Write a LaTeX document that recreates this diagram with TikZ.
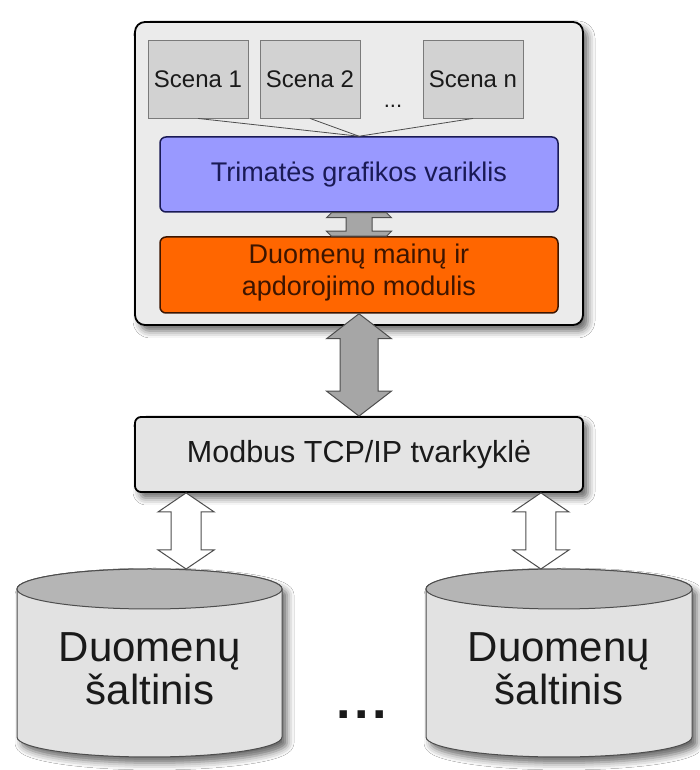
\documentclass[tikz,border=0pt]{standalone}
\usepackage{fontspec}
\setmainfont{Liberation Sans}
\usetikzlibrary{calc,shadows.blur}

\definecolor{shellfill}{HTML}{EBEBEB}
\definecolor{scenefill}{HTML}{D2D2D2}
\definecolor{sceneline}{HTML}{7A7A7A}
\definecolor{enginefill}{HTML}{9999FF}
\definecolor{enginetext}{HTML}{1A1A55}
\definecolor{modulefill}{HTML}{FF6600}
\definecolor{moduletext}{HTML}{3D1500}
\definecolor{driverfill}{HTML}{E4E4E4}
\definecolor{cylbody}{HTML}{E2E2E2}
\definecolor{cyltop}{HTML}{B5B5B5}
\definecolor{arrowfill}{HTML}{A6A6A6}
\definecolor{arrowline}{HTML}{4D4D4D}
\definecolor{inktext}{HTML}{1A1A1A}

% vertical double-headed block arrow:
% #1 style, #2 upper tip (gives x), #3 lower tip, #4 head half width,
% #5 shaft half width, #6 head length
\newcommand{\vdoublearrow}[6]{%
  \path[#1] let \p1=(#2), \p2=(#3) in
    (\x1,\y1) -- (\x1+#4,\y1-#6) -- (\x1+#5,\y1-#6) -- (\x1+#5,\y2+#6)
    -- (\x1+#4,\y2+#6) -- (\x1,\y2) -- (\x1-#4,\y2+#6) -- (\x1-#5,\y2+#6)
    -- (\x1-#5,\y1-#6) -- (\x1-#4,\y1-#6) -- cycle;}

% short double arrow whose tips are hidden by the two boxes it joins:
% #1 style, #2 upper end, #3 lower end, #4 width at the ends,
% #5 head half width, #6 shaft half width, #7 visible head depth
\newcommand{\vlinkarrow}[7]{%
  \path[#1] let \p1=(#2), \p2=(#3) in
    (\x1-#4,\y1) -- (\x1+#4,\y1) -- (\x1+#5,\y1-#7) -- (\x1+#6,\y1-#7)
    -- (\x1+#6,\y2+#7) -- (\x1+#5,\y2+#7) -- (\x1+#4,\y2) -- (\x1-#4,\y2)
    -- (\x1-#5,\y2+#7) -- (\x1-#6,\y2+#7) -- (\x1-#6,\y1-#7) -- (\x1-#5,\y1-#7) -- cycle;}

\tikzset{
  softshadow/.style={blur shadow={shadow xshift=5pt, shadow yshift=-6pt,
      shadow blur radius=7pt, shadow opacity=60}},
  shellbox/.style={draw=black, line width=1.8pt, fill=shellfill,
      rounded corners=10pt, softshadow},
  scenebox/.style={draw=sceneline, line width=0.9pt, fill=scenefill,
      minimum width=100pt, minimum height=78pt, inner sep=0pt,
      text=inktext, font=\fontsize{24}{28}\selectfont},
  enginebox/.style={draw=enginetext, line width=1.5pt, fill=enginefill,
      rounded corners=6pt, minimum width=398pt, minimum height=75pt,
      text=enginetext, font=\fontsize{27}{32}\selectfont},
  modulebox/.style={draw=moduletext, line width=1.5pt, fill=modulefill,
      rounded corners=6pt, minimum width=398pt, minimum height=76pt},
  moduletxt/.style={text=moduletext, align=center,
      font=\fontsize{27}{32}\selectfont},
  driverbox/.style={draw=black, line width=1.8pt, fill=driverfill,
      rounded corners=6pt, minimum width=448pt, minimum height=75pt,
      text=inktext, font=\fontsize{30.5}{36}\selectfont, softshadow},
  feed/.style={draw=arrowline, line width=0.8pt},
  greyarrow/.style={draw=arrowline, line width=1pt, fill=arrowfill,
      line join=miter},
  whitearrow/.style={draw=arrowline, line width=1pt, fill=white,
      line join=miter},
  cylside/.style={draw=arrowline, line width=1pt, fill=cylbody, softshadow},
  cylcap/.style={draw=arrowline, line width=1pt, fill=cyltop},
  dbtext/.style={text=inktext, anchor=base, inner sep=0pt,
      font=\fontsize{42}{42}\selectfont},
}

\begin{document}
\begin{tikzpicture}[x=1pt,y=1pt]
  \useasboundingbox (0,0) rectangle (699,770);
  \fill[white] (0,0) rectangle (699,770);

  % application shell
  \node[shellbox, minimum width=448pt, minimum height=303pt] (shell) at (359,596.5) {};

  % scenes
  \node[scenebox] (s1) at (198,691) {Scena 1};
  \node[scenebox] (s2) at (310,691) {Scena 2};
  \node[scenebox] (sn) at (473,691) {Scena n};
  \node[text=inktext, font=\fontsize{22}{24}\selectfont, inner sep=0pt] (sdots) at (393,664) {...};

  % engine and data module
  \node[enginebox] (engine) at (359,595.5) {Trimatės grafikos variklis};
  \node[modulebox] (module) at (359,495) {};
  \node[moduletxt] (moduletext) at (359,497) {Duomenų mainų ir\\apdorojimo modulis};

  \draw[feed] (s1.south) -- (engine.north);
  \draw[feed] (s2.south) -- (engine.north);
  \draw[feed] (sn.south) -- (engine.north);

  % link between engine and module
  \vlinkarrow{greyarrow}{engine.south}{module.north}{27.5}{32.5}{13}{5}

  % Modbus driver
  \node[driverbox] (modbus) at (359,315.5) {Modbus TCP/IP tvarkyklė};

  \vdoublearrow{greyarrow}{module.south}{modbus.north}{32.5}{19}{25}

  % data sources
  \coordinate (db1) at (149.5,107);
  \coordinate (db1top) at (149.5,201);
  \path[cylside] (17,181) -- (17,33) arc[start angle=180, end angle=360, x radius=132.5, y radius=20]
      -- (282,181) arc[start angle=0, end angle=180, x radius=132.5, y radius=20] -- cycle;
  \path[cylcap] (149.5,181) ellipse[x radius=132.5, y radius=20];
  \node[dbtext] (db1a) at (150,108) {Duomenų};
  \node[dbtext] (db1b) at (150,65) {šaltinis};

  \coordinate (db2) at (559,107);
  \coordinate (db2top) at (559,201);
  \path[cylside] (426,181) -- (426,33) arc[start angle=180, end angle=360, x radius=133, y radius=20]
      -- (692,181) arc[start angle=0, end angle=180, x radius=133, y radius=20] -- cycle;
  \path[cylcap] (559,181) ellipse[x radius=133, y radius=20];
  \node[dbtext] (db2a) at (559,108) {Duomenų};
  \node[dbtext] (db2b) at (559,65) {šaltinis};

  \node[text=inktext, font=\bfseries\fontsize{52}{52}\selectfont, inner sep=0pt, anchor=base]
      (ddots) at (362,51) {.\kern3.5pt.\kern3.5pt.};

  \vdoublearrow{whitearrow}{[xshift=52pt]modbus.south west}{db1top}{28}{15}{19}
  \vdoublearrow{whitearrow}{[xshift=-43pt]modbus.south east}{db2top}{28}{15}{19}
\end{tikzpicture}
\end{document}
